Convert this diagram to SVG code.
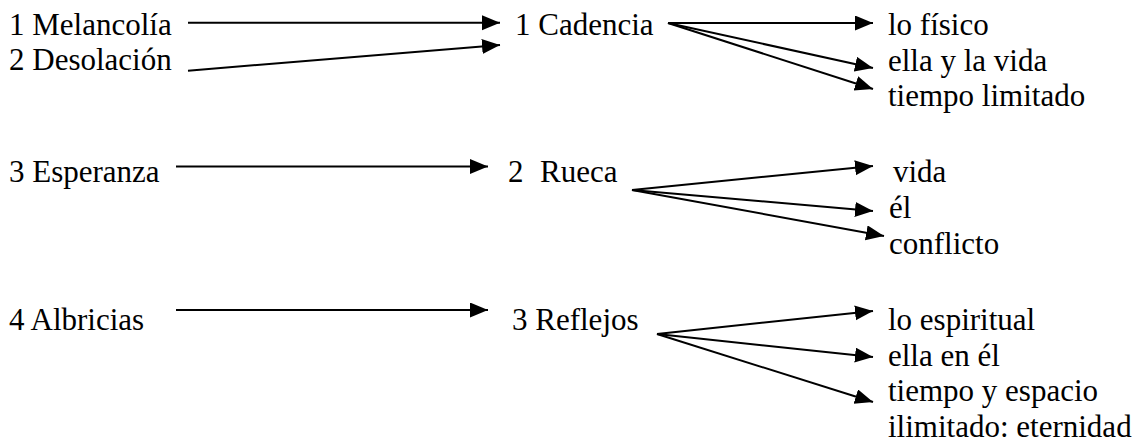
<svg xmlns="http://www.w3.org/2000/svg" width="1147" height="442" viewBox="0 0 1147 442">
<style>
text{font-family:"Liberation Serif",Tinos,"Times New Roman","DejaVu Serif",serif;font-size:31px;fill:#000}
line.a{stroke:#000;stroke-width:2;marker-end:url(#ah)}
</style>
<defs>
<marker id="ah" markerUnits="userSpaceOnUse" markerWidth="20" markerHeight="16" refX="18" refY="7.5" orient="auto" viewBox="0 0 20 16">
<path d="M0,0 L18,7.5 L0,15 z" fill="#000"/>
</marker>
</defs>
<rect width="1147" height="442" fill="#fff"/>
<g id="connectors">
<line class="a" x1="188" y1="22.7" x2="500" y2="22.7"/>
<line class="a" x1="188" y1="70.7" x2="500" y2="45"/>
<line class="a" x1="668" y1="23" x2="873" y2="23"/>
<line class="a" x1="668" y1="23" x2="873" y2="68"/>
<line class="a" x1="668" y1="23" x2="873" y2="89"/>
<line class="a" x1="176" y1="166.5" x2="488" y2="166.5"/>
<line class="a" x1="632" y1="190" x2="873" y2="166"/>
<line class="a" x1="632" y1="190" x2="873" y2="211"/>
<line class="a" x1="632" y1="190" x2="884" y2="236"/>
<line class="a" x1="176" y1="310" x2="488" y2="310"/>
<line class="a" x1="657" y1="334" x2="873" y2="311"/>
<line class="a" x1="657" y1="334" x2="873" y2="357"/>
<line class="a" x1="657" y1="334" x2="873" y2="402"/>
</g>
<g id="n-melancolia"><text x="9" y="35" font-family="Liberation Serif">1 Melancolía</text></g>
<g id="n-desolacion"><text x="9" y="70" font-family="Liberation Serif">2 Desolación</text></g>
<g id="n-cadencia"><text x="515" y="35" font-family="Liberation Serif">1 Cadencia</text></g>
<g id="n-fisico"><text x="888" y="35" font-family="Liberation Serif">lo físico</text></g>
<g id="n-ellavida"><text x="888" y="71" font-family="Liberation Serif">ella y la vida</text></g>
<g id="n-tiempolim"><text x="888" y="106" font-family="Liberation Serif">tiempo limitado</text></g>
<g id="n-esperanza"><text x="9" y="182" font-family="Liberation Serif">3 Esperanza</text></g>
<g id="n-rueca"><text x="508" y="182" font-family="Liberation Serif">2<tspan x="540">Rueca</tspan></text></g>
<g id="n-vida"><text x="893" y="182" font-family="Liberation Serif">vida</text></g>
<g id="n-el"><text x="889" y="218" font-family="Liberation Serif">él</text></g>
<g id="n-conflicto"><text x="889" y="254" font-family="Liberation Serif">conflicto</text></g>
<g id="n-albricias"><text x="9" y="330" font-family="Liberation Serif">4 Albricias</text></g>
<g id="n-reflejos"><text x="512" y="330" font-family="Liberation Serif">3 Reflejos</text></g>
<g id="n-espiritual"><text x="888" y="330" font-family="Liberation Serif">lo espiritual</text></g>
<g id="n-ellaenel"><text x="888" y="366" font-family="Liberation Serif">ella en él</text></g>
<g id="n-tiempoesp"><text x="888" y="401" font-family="Liberation Serif">tiempo y espacio</text><text x="888" y="437" font-family="Liberation Serif">ilimitado: eternidad</text></g>
</svg>
